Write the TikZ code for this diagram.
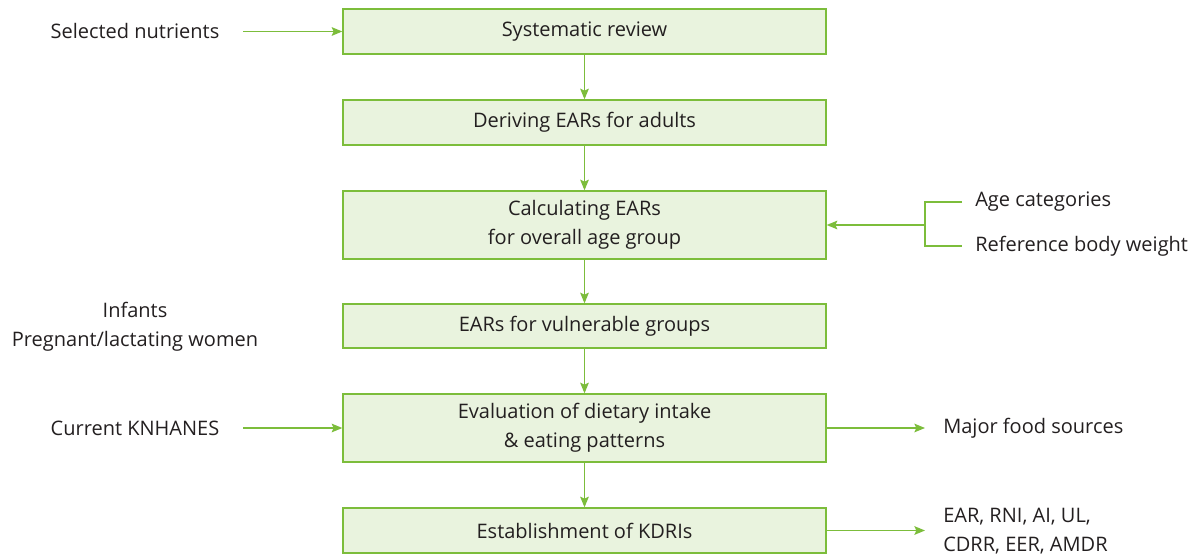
\documentclass[tikz,border=0pt]{standalone}
\usepackage{fontspec}
\setmainfont{Open Sans}
\usetikzlibrary{arrows.meta,positioning}
\definecolor{boxgreen}{HTML}{7CBD3B}
\definecolor{boxfill}{HTML}{E9F3DE}
\definecolor{txt}{HTML}{231F20}

\begin{document}
\begin{tikzpicture}[x=0.75pt,y=-0.75pt,>={Stealth[length=8pt,width=6.5pt,inset=1.5pt]},
  font=\fontsize{15pt}{21.75pt}\selectfont,text=txt]
 \tikzstyle{stage}=[draw=boxgreen,fill=boxfill,line width=1pt,minimum width=483*0.75pt,align=center,inner sep=0pt]
 \tikzstyle{side}=[align=center,inner sep=0pt]
 \tikzstyle{link}=[draw=boxgreen,line width=1pt]
 \useasboundingbox (0,0) rectangle (1203,556);

 % main column
 \node[stage,minimum height=45*0.75pt] (sr)  at (584.5,31.5)  {Systematic review};
 \node[stage,minimum height=45*0.75pt] (ad)  at (584.5,122.5) {Deriving EARs for adults};
 \node[stage,minimum height=68*0.75pt] (ov)  at (584.5,225)   {Calculating EARs\\for overall age group};
 \node[stage,minimum height=44*0.75pt] (vg)  at (584.5,326)   {EARs for vulnerable groups};
 \node[stage,minimum height=68*0.75pt] (ev)  at (584.5,428)   {Evaluation of dietary intake\\\& eating patterns};
 \node[stage,minimum height=45*0.75pt] (kd)  at (584.5,530.5) {Establishment of KDRIs};

 % inputs and outputs
 \node[side] (nut) at (135,31)  {Selected nutrients};
 \node[side] (kn)  at (135,428) {Current KNHANES};
 \node[side] (inf) at (135,326.5) {Infants\\Pregnant/lactating women};
 \node[side,anchor=west] (age) at (975,202) {Age categories};
 \node[side,anchor=west] (rbw) at (975,246) {Reference body weight};
 \node[side,anchor=west] (mfs) at (943,428) {Major food sources};
 \node[side,anchor=west,align=left] (val) at (943,531) {EAR, RNI, AI, UL,\\CDRR, EER, AMDR};

 \coordinate (nutE) at (243,31.5);
 \coordinate (knE)  at (243,428);
 \coordinate (brk)  at (925,225);
 \coordinate (mfsW) at (925,428);
 \coordinate (valW) at (925,530.5);

 \draw[link,->] (sr) -- (ad);
 \draw[link,->] (ad) -- (ov);
 \draw[link,->] (ov) -- (vg);
 \draw[link,->] (vg) -- (ev);
 \draw[link,->] (ev) -- (kd);
 \draw[link,->] (nutE) -- (sr);
 \draw[link,->] (knE) -- (ev);
 \draw[link,->] (brk) -- (ov);
 \draw[link,->] (ev.east) -- (mfsW);
 \draw[link,->] (kd.east) -- (valW);
 \draw[link] (962,202) -| (brk) |- (962,246);
\end{tikzpicture}
\end{document}
